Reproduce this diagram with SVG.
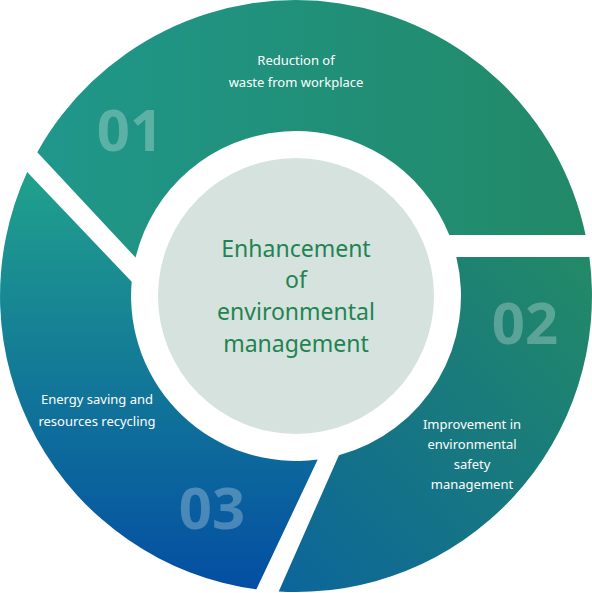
<svg xmlns="http://www.w3.org/2000/svg" width="592" height="593" viewBox="0 0 592 593">
  <style>
    .lbl { font-family: "Noto Sans", "Open Sans", sans-serif; font-size: 13px; fill: #ffffff; text-anchor: middle; }
    .num { font-family: "Noto Sans", "Open Sans", sans-serif; font-size: 58px; font-weight: bold; fill: #ffffff; fill-opacity: 0.27; text-anchor: middle; }
    .ctr { font-family: "Noto Sans", "Open Sans", sans-serif; font-size: 23px; fill: #1e8452; text-anchor: middle; }
  </style>
  <defs>
    <linearGradient id="g1" x1="0" y1="0" x2="1" y2="0">
      <stop offset="0" stop-color="#1f978b"/>
      <stop offset="1" stop-color="#228967"/>
    </linearGradient>
    <linearGradient id="g2" x1="1" y1="0" x2="0" y2="1">
      <stop offset="0" stop-color="#238a66"/>
      <stop offset="1" stop-color="#0c659b"/>
    </linearGradient>
    <linearGradient id="g3" x1="0" y1="0" x2="0" y2="1">
      <stop offset="0" stop-color="#21a18c"/>
      <stop offset="1" stop-color="#034ea3"/>
    </linearGradient>
  </defs>
  <rect width="592" height="593" fill="#ffffff"/>
  <g id="seg1">
    <path d="M37.3,152.2 A296,296 0 0 1 585.6,235 L449.3,235 A165,165 0 0 0 135.6,257.6 Z" fill="url(#g1)"/>
    <text class="lbl" x="296" y="65">Reduction of</text>
    <text class="lbl" x="296" y="87">waste from workplace</text>
    <text class="num" x="130" y="151">01</text>
  </g>
  <g id="seg2">
    <path d="M589.4,257 A296,296 0 0 1 278.7,591.5 L338.9,455.3 A165,165 0 0 0 456.3,257 Z" fill="url(#g2)"/>
    <text class="lbl" x="472" y="429">Improvement in</text>
    <text class="lbl" x="472" y="449">environmental</text>
    <text class="lbl" x="472" y="469">safety</text>
    <text class="lbl" x="472" y="489">management</text>
    <text class="num" x="525" y="344">02</text>
  </g>
  <g id="seg3">
    <path d="M256.4,589.3 A296,296 0 0 1 27.2,172.1 L131.7,281.7 A165,165 0 0 0 317.7,459.6 Z" fill="url(#g3)"/>
    <text class="lbl" x="97" y="404">Energy saving and</text>
    <text class="lbl" x="97" y="426">resources recycling</text>
    <text class="num" x="212" y="529">03</text>
  </g>
  <g id="center">
    <circle cx="296" cy="296" r="138" fill="#d6e2de"/>
    <text class="ctr" x="296" y="257">Enhancement</text>
    <text class="ctr" x="296" y="288">of</text>
    <text class="ctr" x="296" y="320">environmental</text>
    <text class="ctr" x="296" y="352">management</text>
  </g>
  <g id="connectors"/>
</svg>
